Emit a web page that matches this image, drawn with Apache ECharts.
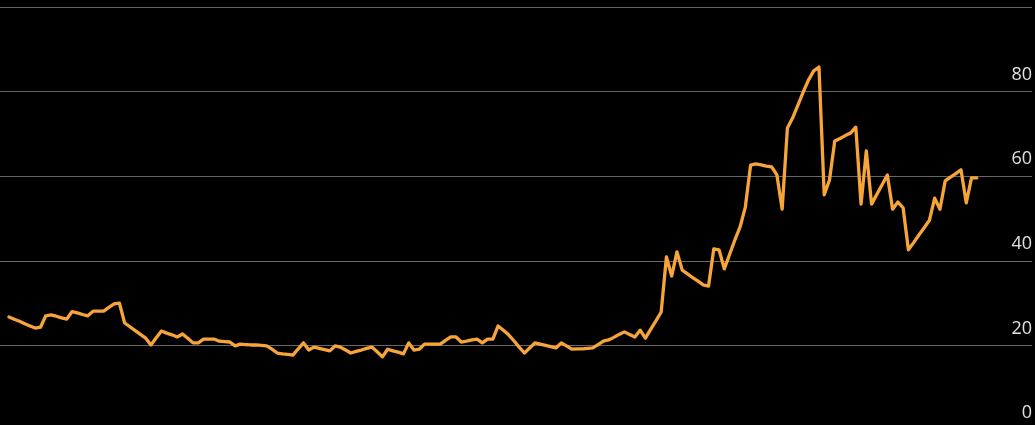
<!DOCTYPE html>
<html>
<head>
<meta charset="utf-8">
<script src="https://cdn.jsdelivr.net/npm/echarts@6/dist/echarts.min.js"></script>
<style>
html,body{margin:0;padding:0;background:#000;}
#chart{width:1035px;height:425px;}
</style>
</head>
<body>
<div id="chart"></div>
<script>
// Weekly values (one value per period)
const values = [
  26.7, 26.2, 25.7, 25.1, 24.6, 24.1, 24.3, 27.0, 27.2, 26.9,
  26.5, 26.2, 28.0, 27.7, 27.3, 27.0, 28.1, 28.1, 28.1, 29.0,
  29.8, 30.0, 25.3, 24.4, 23.5, 22.6, 21.7, 20.1, 21.8, 23.4,
  22.9, 22.5, 22.0, 22.7, 21.7, 20.6, 20.6, 21.5, 21.5, 21.5,
  21.0, 20.9, 20.8, 19.9, 20.3, 20.2, 20.1, 20.1, 20.0, 19.9,
  19.1, 18.2, 18.0, 17.9, 17.7, 19.2, 20.6, 18.9, 19.6, 19.3,
  19.0, 18.7, 19.9, 19.6, 18.9, 18.2, 18.6, 18.9, 19.3, 19.6,
  18.5, 17.3, 19.1, 18.7, 18.4, 18.0, 20.6, 18.9, 19.1, 20.3,
  20.3, 20.3, 20.3, 21.2, 22.0, 22.0, 20.8, 21.0, 21.3, 21.5,
  20.6, 21.5, 21.5, 24.6, 23.6, 22.5, 21.1, 19.6, 18.2, 19.4,
  20.6, 20.3, 20.0, 19.7, 19.4, 20.6, 19.9, 19.1, 19.2, 19.2,
  19.3, 19.4, 20.2, 21.0, 21.3, 21.9, 22.6, 23.2, 22.6, 22.0,
  23.6, 21.7, 23.8, 25.8, 27.9, 40.9, 36.4, 42.1, 37.8, 36.9,
  36.0, 35.2, 34.3, 34.0, 42.8, 42.6, 38.1, 41.5, 44.9, 48.0,
  52.7, 62.6, 62.9, 62.7, 62.4, 62.2, 60.3, 52.2, 71.4, 73.8,
  76.8, 79.9, 82.7, 84.9, 85.8, 55.6, 59.1, 68.3, 68.9, 69.6,
  70.2, 71.6, 53.4, 66.0, 53.4, 55.7, 58.0, 60.3, 52.2, 53.9,
  52.5, 42.6, 44.3, 46.1, 47.8, 49.6, 54.8, 52.2, 58.9, 59.8,
  60.6, 61.5, 53.7, 59.6, 59.6
];
const yTicks = [0, 20, 40, 60, 80, 100];
const hiddenTickLabels = [100];

const chart = echarts.init(document.getElementById('chart'), null, {renderer: 'canvas'});
chart.setOption({
  backgroundColor: '#000000',
  animation: false,
  grid: {left: 0, right: 3, top: 7, height: 423, containLabel: false, outerBoundsMode: 'none'},
  xAxis: {
    type: 'value',
    min: -1.7,
    max: 194.5,
    show: false
  },
  yAxis: {
    type: 'value',
    position: 'right',
    min: yTicks[0],
    max: yTicks[yTicks.length - 1],
    interval: 20,
    axisLine: {show: false},
    axisTick: {show: false},
    splitLine: {show: true, lineStyle: {color: '#666666', width: 1}},
    axisLabel: {
      inside: true,
      margin: 0,
      color: '#e0e0e0',
      fontSize: 18,
      fontFamily: 'Open Sans, Noto Sans, sans-serif',
      verticalAlign: 'bottom',
      padding: [0, 0, 8, 0],
      formatter: function (v) { return hiddenTickLabels.indexOf(v) >= 0 ? '' : String(v); }
    }
  },
  series: [{
    type: 'line',
    data: values.map(function (v, i) { return [i, v]; }),
    showSymbol: false,
    symbol: 'none',
    lineStyle: {color: '#F7A53A', width: 3.3, join: 'round', cap: 'round'},
    clip: false
  }]
});
</script>
</body>
</html>
